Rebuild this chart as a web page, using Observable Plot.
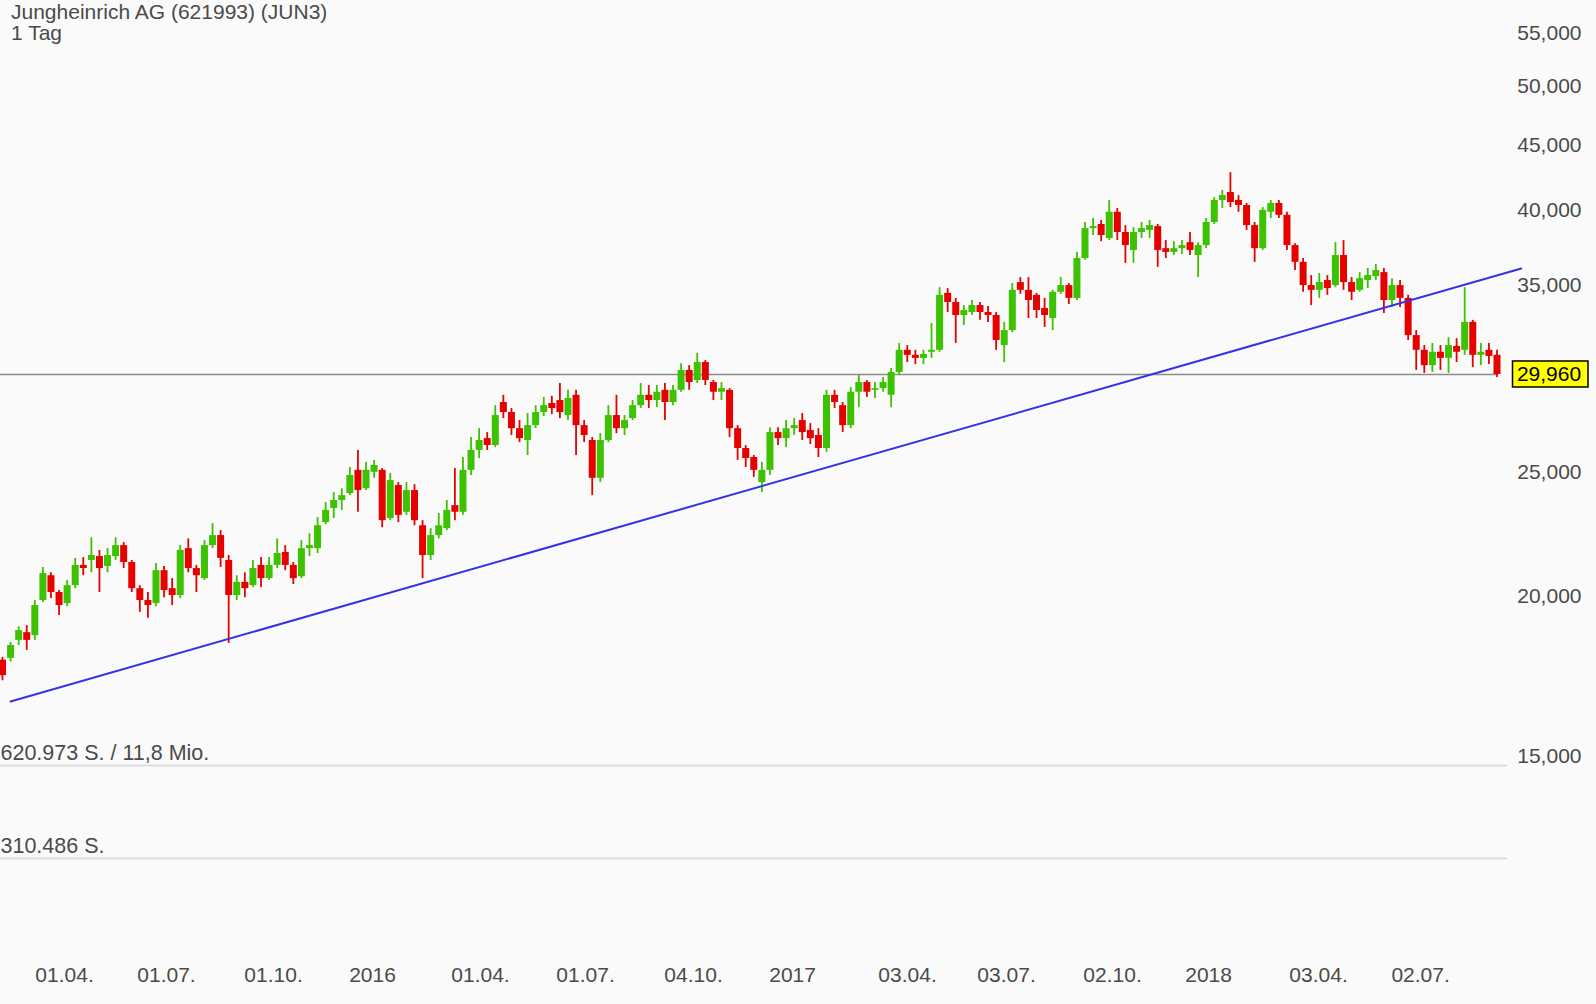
<!DOCTYPE html>
<html>
<head>
<meta charset="utf-8">
<script src="https://cdn.jsdelivr.net/npm/d3@7"></script>
<script src="https://cdn.jsdelivr.net/npm/@observablehq/plot@0.6"></script>
<style>
html, body { margin: 0; padding: 0; background: #fafafa; }
#wrap { position: relative; width: 1596px; height: 1004px; overflow: hidden; font-family: "Liberation Sans", Arial, sans-serif; }
#wrap svg { position: absolute; left: 0; top: 0; }
#title { position: absolute; left: 11px; top: 1px; font-size: 21px; line-height: 21px; color: #4a4a4a; z-index: 5; }
#title div { height: 21px; }
</style>
</head>
<body>
<div id="wrap"><div id="title"><div>Jungheinrich AG (621993) (JUN3)</div><div>1 Tag</div></div></div>
<script>
// Weekly candles (EUR)
const open = [17.93,17.99,18.58,18.84,18.74,19.96,20.87,20.25,19.85,20.50,21.26,21.45,21.60,21.22,21.60,22.03,21.37,20.39,19.96,19.85,21.06,20.39,20.14,21.91,21.14,20.76,22.03,22.43,21.45,20.14,20.62,20.50,21.26,20.76,21.26,21.76,21.26,20.83,21.91,21.91,22.96,23.55,23.89,24.19,25.22,24.40,25.13,25.22,23.13,24.54,23.39,24.32,22.83,21.64,22.43,22.71,23.67,23.39,25.22,26.14,26.70,26.37,28.49,27.98,27.18,26.61,27.33,27.98,28.44,28.59,27.83,28.86,27.33,26.61,24.86,26.61,27.83,27.18,27.68,28.33,28.86,28.59,29.12,28.49,29.12,30.18,29.64,30.61,29.53,29.02,29.12,27.18,26.23,25.81,24.67,25.22,26.99,26.70,27.18,27.58,27.09,26.85,26.23,28.86,28.33,27.33,29.02,29.53,29.12,29.21,28.86,30.07,31.29,31.01,30.84,31.18,31.29,34.66,34.10,33.31,33.49,33.91,33.49,33.31,31.56,32.42,35.34,34.85,34.54,33.73,33.13,34.73,35.15,34.35,36.90,38.94,39.23,38.25,40.10,38.67,37.44,38.67,38.81,39.08,37.56,37.31,37.56,37.97,37.10,37.77,39.37,40.96,41.55,40.96,40.59,39.15,37.56,40.10,40.74,39.88,37.77,36.65,35.15,34.85,35.47,35.15,37.10,35.34,34.85,35.47,35.72,35.98,34.22,35.15,34.35,32.13,31.29,30.44,31.18,30.84,31.51,31.29,32.90,31.01,31.29,31.01];
const high = [18.02,18.51,19.04,19.08,19.96,21.18,20.98,20.32,20.69,21.53,21.56,22.34,21.84,21.91,22.34,22.15,21.45,20.50,20.25,21.33,21.22,20.76,22.03,22.30,21.26,22.23,22.92,22.63,21.64,20.87,20.98,21.45,21.56,21.56,22.30,22.03,21.37,22.23,22.51,23.17,23.80,24.23,24.40,25.35,26.14,25.58,25.67,25.30,25.08,24.67,24.67,24.58,23.04,22.71,23.34,23.89,25.30,25.81,26.75,27.18,26.99,28.33,28.86,28.18,27.58,27.93,28.33,28.75,28.81,29.48,29.12,29.12,27.58,26.75,26.94,28.33,28.86,27.83,28.59,29.48,29.37,29.37,29.48,29.37,30.55,30.44,31.12,30.72,29.64,29.53,29.21,27.33,26.37,25.90,25.58,27.23,27.23,27.58,27.68,27.93,27.43,27.18,29.12,29.12,28.49,29.27,29.91,29.64,29.53,29.80,30.28,31.68,31.56,31.29,31.29,32.84,35.02,34.96,34.35,33.91,34.22,34.10,33.85,33.49,32.90,35.28,35.66,35.66,34.66,34.35,34.85,35.66,35.28,37.31,39.37,39.66,39.51,40.96,40.37,39.15,39.01,39.37,39.51,39.23,38.11,38.04,38.11,38.67,37.97,39.66,41.17,41.70,43.06,41.32,40.74,39.37,40.44,40.96,40.96,40.10,37.90,36.90,35.79,35.92,35.79,37.97,38.11,35.66,35.98,36.25,36.52,36.25,35.59,35.47,34.54,32.42,31.56,31.68,31.56,32.01,31.95,35.02,33.02,31.68,31.68,31.29];
const low = [17.28,17.87,18.41,18.25,18.58,19.89,20.03,19.43,19.74,20.39,20.87,20.98,20.25,20.98,21.45,21.14,20.25,19.54,19.33,19.74,20.06,19.78,20.03,20.98,20.25,20.69,21.91,21.18,18.48,19.96,20.06,20.43,20.43,20.69,21.14,21.06,20.54,20.76,21.60,21.72,22.87,23.13,23.47,24.10,23.39,24.32,24.86,22.75,23.04,22.96,23.26,22.83,20.76,21.45,22.30,22.63,23.04,23.26,24.99,25.76,26.14,26.27,27.68,26.85,26.51,25.90,27.18,27.78,27.88,27.68,27.58,25.90,26.51,24.10,24.67,26.51,26.94,26.85,27.58,28.18,28.18,28.23,27.58,28.33,29.02,29.12,29.48,29.37,28.59,28.59,26.75,25.67,25.35,24.90,24.23,24.99,26.37,26.27,26.85,26.61,26.42,25.81,26.05,28.18,26.99,27.18,28.23,28.75,28.70,29.02,28.23,29.91,30.61,30.50,30.50,30.84,31.18,33.49,31.68,32.72,33.31,33.02,32.90,31.29,30.61,32.30,34.60,33.13,33.13,32.60,32.42,34.60,33.97,34.22,36.78,38.46,38.04,38.11,38.11,36.58,36.58,38.25,38.25,36.32,36.90,37.10,37.17,37.10,35.66,37.56,39.23,40.37,40.44,40.10,38.81,36.65,37.44,39.66,39.66,37.44,36.11,34.73,33.91,34.35,34.54,35.02,34.85,34.22,34.73,34.96,35.47,33.43,33.79,33.79,31.85,30.18,30.02,30.07,30.18,30.02,30.61,31.01,30.33,30.44,30.50,29.80];
const close = [17.44,18.41,18.91,18.58,19.78,20.95,20.25,19.78,20.50,21.26,21.14,21.64,21.14,21.64,22.03,21.37,20.39,19.96,19.78,21.06,20.32,20.14,21.84,21.14,20.87,22.03,22.43,21.53,20.14,20.62,20.39,21.14,20.76,21.26,21.72,21.26,20.76,21.91,22.03,22.83,23.47,23.89,24.10,24.99,24.32,25.22,25.44,23.04,24.76,23.26,24.32,23.04,21.64,22.43,22.83,23.47,23.39,25.22,26.14,26.61,26.37,27.83,27.98,27.18,26.70,27.33,27.98,28.33,28.18,27.98,28.70,27.33,26.85,24.86,26.61,27.83,27.18,27.58,28.33,28.86,28.59,29.02,28.49,29.12,30.18,29.53,30.61,29.64,29.02,29.21,27.18,26.23,25.76,25.22,25.22,26.99,26.70,27.18,27.33,26.99,26.70,26.23,28.86,28.49,27.33,29.02,29.53,29.02,29.21,29.53,30.07,31.29,31.01,30.84,31.06,31.29,34.54,34.10,33.31,33.61,33.91,33.49,33.31,31.85,32.42,34.85,34.85,34.22,33.61,33.31,34.73,35.15,34.35,36.90,38.94,39.08,38.46,40.10,38.67,37.77,38.67,38.94,39.15,37.44,37.31,37.56,37.77,37.44,37.77,39.37,40.96,41.32,40.81,40.59,39.15,37.56,40.24,40.74,39.88,37.77,36.65,35.15,34.85,35.34,34.96,37.10,35.34,34.73,35.59,35.79,36.11,34.22,35.15,34.35,32.13,31.29,30.44,31.18,30.84,31.56,31.18,32.90,31.01,31.18,30.95,29.96];

const lastPrice = 29.96;
const trendCandle = [1, 188];
const trendValue = [16.65, 36.25];

const yTicks = [15, 20, 25, 35, 40, 45, 50, 55];
const xTickCandle = [7.68, 20.30, 33.55, 45.80, 59.17, 72.17, 85.54, 97.80, 112.03, 124.29, 137.41, 149.30, 162.91, 175.54];
const xTickLabels = ["01.04.", "01.07.", "01.10.", "2016", "01.04.", "01.07.", "04.10.", "2017", "03.04.", "03.07.", "02.10.", "2018", "03.04.", "02.07."];

const volumeLevels = [620973, 310486];
const volumeLabels = ["620.973 S. / 11,8 Mio.", "310.486 S."];

const RED = "#e60000", GREEN = "#3cc200", BLUE = "#3232e6", TXT = "#4a4a4a";
const FONT = '"Liberation Sans", Arial, sans-serif';

const candles = open.map((o, i) => ({i, o, h: high[i], l: low[i], c: close[i]}));
const up = candles.filter(d => d.c >= d.o);
const down = candles.filter(d => d.c < d.o);
const trend = trendCandle.map((i, k) => ({i, v: trendValue[k]}));
const xLabel = new Map(xTickCandle.map((t, k) => [t, xTickLabels[k]]));

const price = Plot.plot({
  width: 1596, height: 1004,
  marginLeft: 0, marginRight: 98, marginTop: 0, marginBottom: 44,
  style: {background: "transparent", fontFamily: FONT, fontSize: "21px", color: TXT, overflow: "visible"},
  x: {type: "linear", domain: [0, 185], range: [2, 1496.5], label: null},
  y: {type: "log", domain: [15, 55], range: [759, 35.93], label: null},
  marks: [
    Plot.ruleY([lastPrice], {stroke: "#8a8a8a", strokeWidth: 1.6}),
    Plot.ruleX(up, {x: "i", y1: "l", y2: "h", stroke: GREEN, strokeWidth: 1.8}),
    Plot.ruleX(down, {x: "i", y1: "l", y2: "h", stroke: RED, strokeWidth: 1.8}),
    Plot.ruleX(up, {x: "i", y1: "o", y2: "c", stroke: GREEN, strokeWidth: 7}),
    Plot.ruleX(down, {x: "i", y1: "o", y2: "c", stroke: RED, strokeWidth: 7}),
    Plot.line(trend, {x: "i", y: "v", stroke: BLUE, strokeWidth: 2}),
    Plot.axisY({anchor: "right", ticks: yTicks, tickFormat: d => d.toFixed(3).replace(".", ","), tickSize: 0, tickPadding: 83, textAnchor: "end", dy: -3, fontSize: 21, fill: TXT, label: null}),
    Plot.axisX({anchor: "bottom", ticks: xTickCandle, tickFormat: d => xLabel.get(d), tickSize: 0, tickPadding: 7, fontSize: 21, fill: TXT, label: null})
  ]
});

// last price marker box
const yy = price.scale("y").apply(lastPrice);
const g = d3.select(price).append("g");
g.append("rect").attr("x", 1512.5).attr("y", yy - 13).attr("width", 75.5).attr("height", 26)
  .attr("fill", "#ffff00").attr("stroke", "#000").attr("stroke-width", 1.5);
g.append("text").attr("x", 1549).attr("y", yy).attr("dy", "0.35em").attr("text-anchor", "middle")
  .attr("font-size", 21).attr("font-family", FONT).attr("fill", "#000")
  .text(lastPrice.toFixed(3).replace(".", ","));

const volData = volumeLevels.map((v, i) => ({v, label: volumeLabels[i]}));
const vol = Plot.plot({
  width: 1596, height: 1004,
  marginLeft: 0, marginRight: 89, marginTop: 0, marginBottom: 0,
  style: {background: "transparent", fontFamily: FONT, fontSize: "21.5px", color: TXT, overflow: "visible"},
  y: {domain: [0, 620973], range: [951, 765], axis: null},
  marks: [
    Plot.ruleY(volData, {y: "v", stroke: "#dcdcdc", strokeWidth: 2}),
    Plot.text(volData, {y: "v", text: "label", frameAnchor: "left", textAnchor: "start", dx: 0, dy: -12, fontSize: 21.5, fill: TXT})
  ]
});

const wrap = document.getElementById("wrap");
wrap.appendChild(vol);
wrap.appendChild(price);
</script>
</body>
</html>
